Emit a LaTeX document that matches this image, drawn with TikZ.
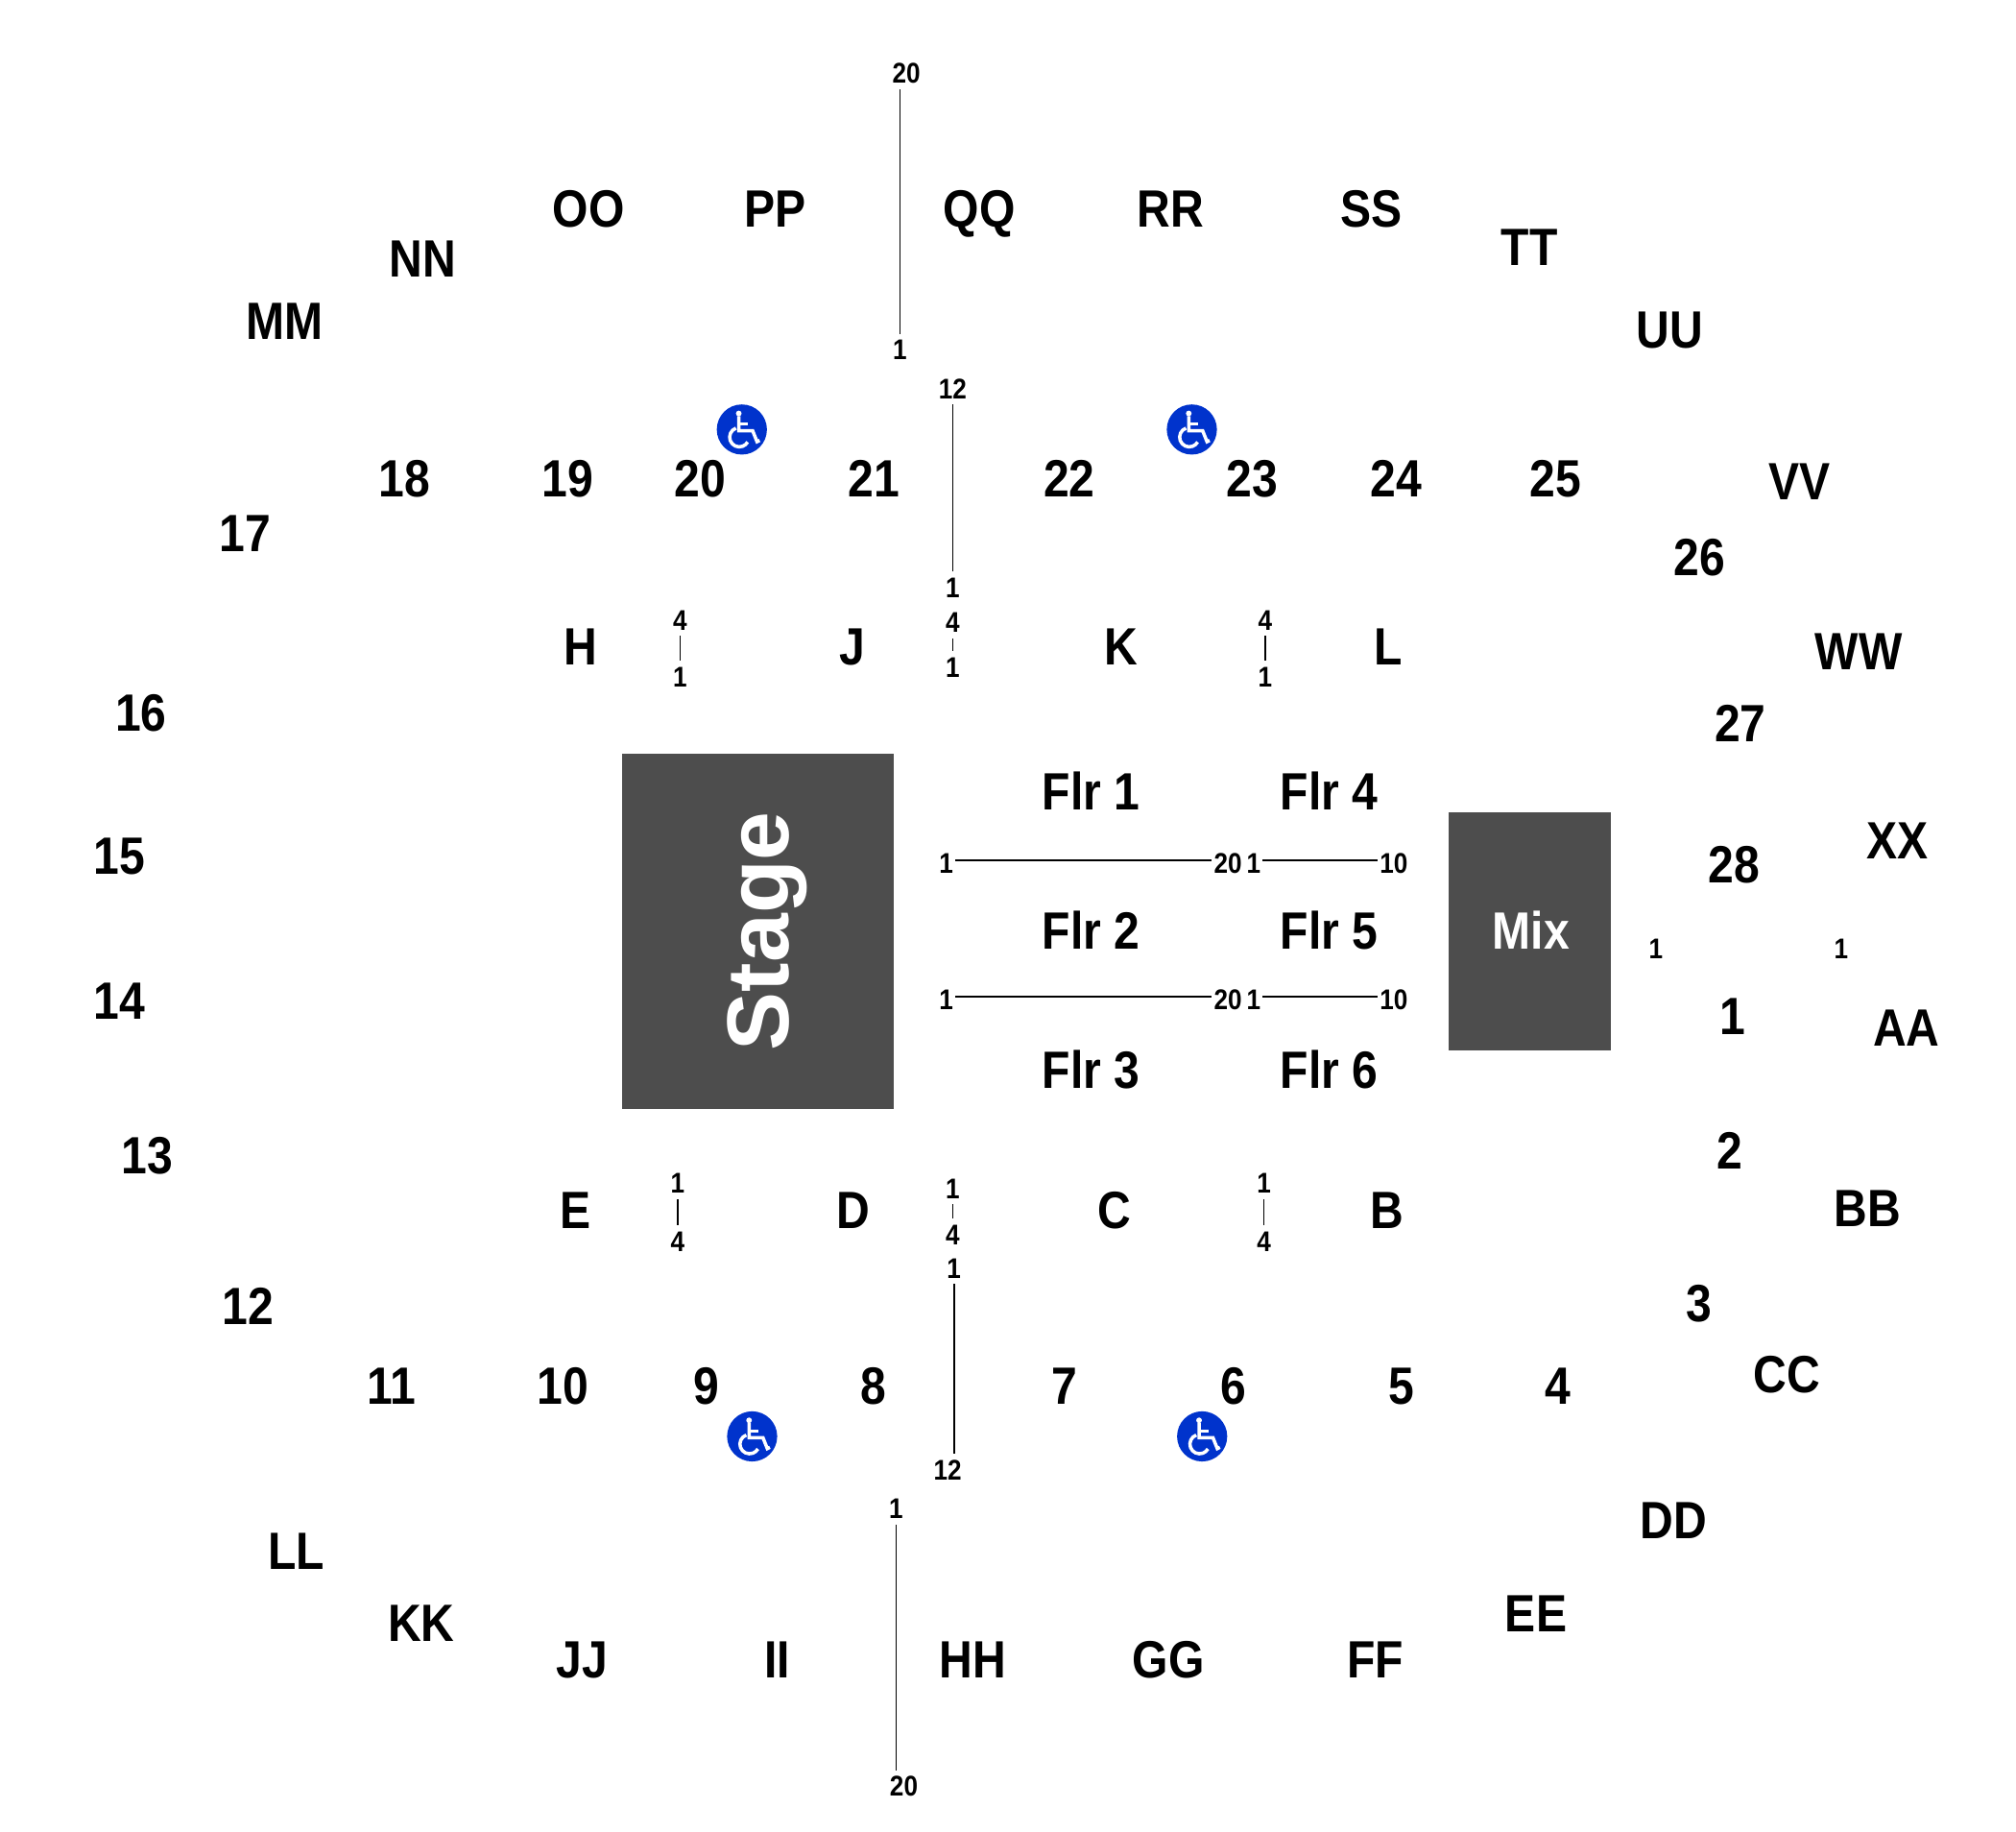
\documentclass[tikz,border=0pt]{standalone}
\usepackage{fontspec}
\setmainfont[FakeStretch=0.88]{Liberation Sans}
\newfontfamily\stagefont{Liberation Sans}
\usetikzlibrary{positioning}
\definecolor{venuegray}{HTML}{4D4D4D}
\definecolor{accessblue}{HTML}{0033CC}
\tikzset{
  section/.style={font=\fontsize{11.6}{14}\selectfont\bfseries, inner sep=0pt, text height=8.4pt, text depth=0pt, xshift=0.2pt, yshift=0.3pt},
  seat/.style={font=\fontsize{6.3}{8}\selectfont\bfseries, inner sep=1.4pt, text height=4.5pt, text depth=0pt},
  area/.style={fill=venuegray, draw=none},
  row/.style={line width=0.35pt, black, shorten <=-0.3pt, shorten >=-0.3pt},
  rowlong/.style={row, shorten <=-1.1pt, shorten >=-1.1pt},
  wheelchair/.pic={
    \fill[accessblue] (0,0) circle[radius=19.5];
    \fill[white] (-2.4,-12.5) circle[radius=2.2];
    \draw[white, line width=0.75pt] (-2.4,-10.5) -- (-2.4,1) -- (8.4,1) -- (11.8,9.5) -- (13.8,8.5);
    \draw[white, line width=0.75pt] (-2.4,-4.2) -- (5,-4.2);
    \draw[white, line width=0.75pt] (-2,6) ++(250:7.5) arc[start angle=250, end angle=30, radius=7.5];
  }
}
\begin{document}
\begin{tikzpicture}[x=0.01cm, y=-0.01cm]
\useasboundingbox (0,0) rectangle (1568,1424.6);

\node[area, minimum width=2.11cm, minimum height=2.76cm, inner sep=0pt] (stage) at (589.5,724) {};
\node[area, minimum width=1.26cm, minimum height=1.85cm, inner sep=0pt] (mix) at (1190,724.5) {};
\node[rotate=90, text=white, inner sep=0pt, font=\fontsize{19.4}{22}\selectfont\stagefont\bfseries] (stagetext) at (597,724) {Stage};
\node[text=white, section] (mixtext) at (mix.center) {Mix};

\node[section] (OO) at (457,163) {OO};
\node[section] (PP) at (602,163) {PP};
\node[section] (QQ) at (761,163) {QQ};
\node[section] (RR) at (910,163) {RR};
\node[section] (SS) at (1066,163) {SS};
\node[section] (TT) at (1189,193) {TT};
\node[section] (UU) at (1298,257) {UU};
\node[section] (NN) at (328,202) {NN};
\node[section] (MM) at (221,250) {MM};
\node[section] (VV) at (1399,375) {VV};
\node[section] (WW) at (1445,507) {WW};
\node[section] (XX) at (1475,654) {XX};
\node[section] (AA) at (1482,800) {AA};
\node[section] (BB) at (1452,940) {BB};
\node[section] (CC) at (1389,1069) {CC};
\node[section] (DD) at (1301,1183) {DD};
\node[section] (EE) at (1194,1255) {EE};
\node[section] (FF) at (1069,1291) {FF};
\node[section] (GG) at (908,1291) {GG};
\node[section] (HH) at (756,1291) {HH};
\node[section] (II) at (604,1291) {II};
\node[section] (JJ) at (452,1291) {JJ};
\node[section] (KK) at (327,1263) {KK};
\node[section] (LL) at (230,1207) {LL};

\node[section] (s18) at (314,373) {18};
\node[section] (s19) at (441,373) {19};
\node[section] (s20) at (544,373) {20};
\node[section] (s21) at (679,373) {21};
\node[section] (s22) at (831,373) {22};
\node[section] (s23) at (973,373) {23};
\node[section] (s24) at (1085,373) {24};
\node[section] (s25) at (1209,373) {25};
\node[section] (s17) at (190,415) {17};
\node[section] (s26) at (1321,434) {26};
\node[section] (s16) at (109,555) {16};
\node[section] (s27) at (1353,563) {27};
\node[section] (s28) at (1348,673) {28};
\node[section] (s15) at (92,666) {15};
\node[section] (s14) at (92,779) {14};
\node[section] (s1) at (1347,791) {1};
\node[section] (s13) at (114,899) {13};
\node[section] (s2) at (1345,895) {2};
\node[section] (s12) at (192,1016) {12};
\node[section] (s3) at (1321,1014) {3};
\node[section] (s11) at (304,1078) {11};
\node[section] (s10) at (437,1078) {10};
\node[section] (s9) at (549,1078) {9};
\node[section] (s8) at (679,1078) {8};
\node[section] (s7) at (827,1078) {7};
\node[section] (s6) at (959,1078) {6};
\node[section] (s5) at (1089,1078) {5};
\node[section] (s4) at (1211,1078) {4};

\node[section] (H) at (451,503) {H};
\node[section] (J) at (662,503) {J};
\node[section] (K) at (871,503) {K};
\node[section] (L) at (1079,503) {L};
\node[section] (E) at (447,942) {E};
\node[section] (D) at (663,942) {D};
\node[section] (C) at (866,942) {C};
\node[section] (B) at (1078,942) {B};

\node[section] (flrA) at (848,616) {Flr 1};
\node[section] (flrB) at (848,724) {Flr 2};
\node[section] (flrC) at (848,833) {Flr 3};
\node[section] (flrD) at (1033,616) {Flr 4};
\node[section] (flrE) at (1033,724) {Flr 5};
\node[section] (flrF) at (1033,833) {Flr 6};

\node[seat] (ppTop) at (705,57) {20};
\node[seat] (ppEnd) at (700,272) {1};
\node[seat] (midTop) at (741,302) {12};
\node[seat] (midEnd) at (741,457) {1};
\node[seat] (jkTop) at (741,484) {4};
\node[seat] (jkEnd) at (741,519) {1};
\node[seat] (hjTop) at (529,482) {4};
\node[seat] (hjEnd) at (529,526) {1};
\node[seat] (klTop) at (984,482) {4};
\node[seat] (klEnd) at (984,526) {1};

\node[seat] (edTop) at (527,920) {1};
\node[seat] (edEnd) at (527,965) {4};
\node[seat] (dcTop) at (741,924) {1};
\node[seat] (dcEnd) at (741,960) {4};
\node[seat] (cbTop) at (983,920) {1};
\node[seat] (cbEnd) at (983,965) {4};
\node[seat] (lowTop) at (742,986) {1};
\node[seat] (lowEnd) at (737,1143) {12};
\node[seat] (hhTop) at (697,1173) {1};
\node[seat] (hhEnd) at (703,1389) {20};

\node[seat] (aFront) at (736,671) {1};
\node[seat] (aBack) at (955,671) {20};
\node[seat] (dFront) at (975,671) {1};
\node[seat] (dBack) at (1084,671) {10};
\node[seat] (bFront) at (736,777) {1};
\node[seat] (bBack) at (955,777) {20};
\node[seat] (eFront) at (975,777) {1};
\node[seat] (eBack) at (1084,777) {10};

\node[seat] (wedgeA) at (1288,738) {1};
\node[seat] (wedgeB) at (1432,738) {1};

\draw[row] (ppEnd.north) -- (ppEnd.north |- ppTop.south);
\draw[row] (midEnd.north) -- (midTop.south);
\draw[row] (jkTop) -- (jkEnd);
\draw[row] (hjTop) -- (hjEnd);
\draw[row] (klTop) -- (klEnd);
\draw[row] (edTop) -- (edEnd);
\draw[row] (dcTop) -- (dcEnd);
\draw[row] (cbTop) -- (cbEnd);
\draw[row] (lowTop.south) -- (lowTop.south |- lowEnd.north);
\draw[row] (hhTop.south) -- (hhTop.south |- hhEnd.north);
\draw[rowlong] ([yshift=0.6pt]aFront.east) -- ([yshift=0.6pt]aBack.west);
\draw[rowlong] ([yshift=0.6pt]dFront.east) -- ([yshift=0.6pt]dBack.west);
\draw[rowlong] ([yshift=0.6pt]bFront.east) -- ([yshift=0.6pt]bBack.west);
\draw[rowlong] ([yshift=0.6pt]eFront.east) -- ([yshift=0.6pt]eBack.west);

\pic (wheelA) at (577,334) {wheelchair};
\pic (wheelB) at (927,334) {wheelchair};
\pic (wheelC) at (585,1117) {wheelchair};
\pic (wheelD) at (935,1117) {wheelchair};
\end{tikzpicture}
\end{document}
